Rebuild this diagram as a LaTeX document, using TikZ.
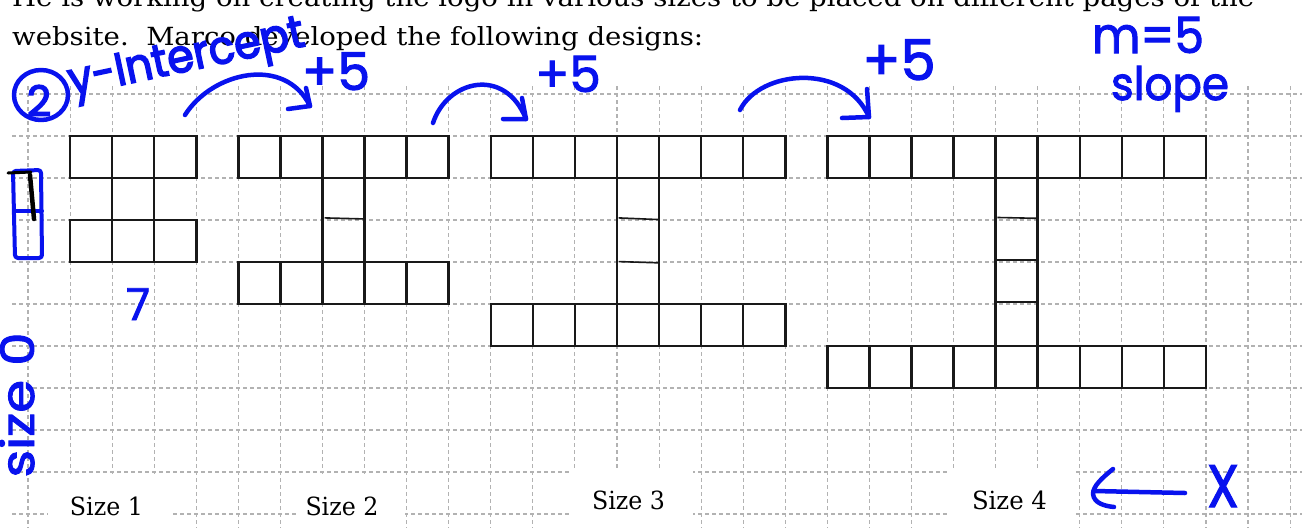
\documentclass[tikz,border=0pt]{standalone}
\usepackage{fontspec}
\usepackage{graphicx}
\setmainfont{DejaVu Serif}
\newfontfamily\handfont{Poppins}[FakeBold=2]
\newfontfamily\handheavy{Poppins}[FakeBold=3.5]
\definecolor{inkc}{RGB}{8,18,238}
\definecolor{gridc}{RGB}{178,178,178}
\definecolor{boxc}{RGB}{25,25,25}
\tikzset{
  gridline/.style={draw=gridc, line width=1.1pt, dash pattern=on 4pt off 3pt},
  sq/.style={draw=boxc, line width=2.5pt},
  divider/.style={draw=boxc, line width=1.6pt},
  ink/.style={draw=inkc, line width=4.5pt, line cap=round, line join=round},
  hw/.style={text=inkc, inner sep=0pt},
  printed/.style={inner sep=0pt, font=\fontsize{25}{28}\selectfont},
  sizelabel/.style={inner sep=0pt, anchor=base, font=\fontsize{25}{28}\selectfont},
}
\begin{document}
\begin{tikzpicture}[x=1pt,y=-1pt]
\useasboundingbox (0,0) rectangle (1302,528);
\fill[white] (0,0) rectangle (1302,528);
\clip (0,0) rectangle (1302,528);
% printed text
\node[printed, anchor=base west] (line0) at (12,6) {\resizebox{1242pt}{\height}{He is working on creating the logo in various sizes to be placed on different pages of the}};
\node[printed, anchor=base west] (line1) at (12,45) {\resizebox{691pt}{\height}{website.\ \ Marco developed the following designs:}};
% grid
\foreach \k in {0,...,30} \draw[gridline] ({28+42.07*\k},86) -- ({28+42.07*\k},528);
\foreach \j in {0,...,10} \draw[gridline] (12,{94+42*\j}) -- (1302,{94+42*\j});
% label gaps
\fill[white] (48,474) rectangle (172,528);
\fill[white] (297,474) rectangle (405,528);
\fill[white] (570,468) rectangle (693,528);
\fill[white] (948,468) rectangle (1073,528);
% labels
\node[sizelabel] (s1) at (106.5,515) {\resizebox{73pt}{\height}{Size 1}};
\node[sizelabel] (s2) at (342,515) {\resizebox{73pt}{\height}{Size 2}};
\node[sizelabel] (s3) at (628.5,509) {\resizebox{73pt}{\height}{Size 3}};
\node[sizelabel] (s4) at (1009.5,509) {\resizebox{75pt}{\height}{Size 4}};
% designs
\begin{scope}[shift={(28,94)}, x=42.07pt, y=-42pt]
  % size 1
  \foreach \k in {1,2,3} {\draw[sq] (\k,1) rectangle ++(1,1); \draw[sq] (\k,3) rectangle ++(1,1);}
  \draw[sq] (2,2) rectangle ++(1,1);
  % size 2
  \foreach \k in {5,...,9} {\draw[sq] (\k,1) rectangle ++(1,1); \draw[sq] (\k,4) rectangle ++(1,1);}
  \draw[sq] (7,2) -- (7,4) (8,2) -- (8,4);
  \draw[divider] (7.05,2.95) -- (8,2.975);
  % size 3
  \foreach \k in {11,...,17} {\draw[sq] (\k,1) rectangle ++(1,1); \draw[sq] (\k,5) rectangle ++(1,1);}
  \draw[sq] (14,2) -- (14,5) (15,2) -- (15,5);
  \draw[divider] (14.04,2.95) -- (15,2.99);
  \draw[divider] (14.04,3.99) -- (15,4.02);
  % size 4
  \foreach \k in {19,...,27} {\draw[sq] (\k,1) rectangle ++(1,1); \draw[sq] (\k,6) rectangle ++(1,1);}
  \draw[sq] (23,2) -- (23,6) (24,2) -- (24,6);
  \draw[divider] (23.04,2.94) -- (24,2.96);
  \draw[divider] (23,3.95) -- (24,3.95);
  \draw[divider] (23,4.95) -- (24,4.95);
\end{scope}
% handwriting
\draw[ink] (41,95) ellipse (27 and 25);
\node[hw, font=\handheavy\fontsize{42}{42}\selectfont, anchor=base] (two) at (39,116) {2};
\node[hw, font=\handheavy\fontsize{46}{46}\selectfont, rotate=12] (yint) at (187,61) {\resizebox{240pt}{\height}{y-Intercept}};
% arcs
\coordinate (a1s) at (185,115); \coordinate (a1e) at (310,106);
\draw[ink] (a1s) .. controls (212,72) and (285,55) .. (a1e);
\draw[ink] (288,109) -- (a1e) -- (306,88);
\node[hw, font=\handfont\fontsize{52}{52}\selectfont, anchor=base] (p1) at (336,90) {+5};
\coordinate (a2s) at (433,123); \coordinate (a2e) at (526,119);
\draw[ink] (a2s) .. controls (447,80) and (505,66) .. (a2e);
\draw[ink] (503,119) -- (a2e) -- (522,98);
\node[hw, font=\handfont\fontsize{50}{50}\selectfont, anchor=base] (p2) at (568,92) {+5};
\coordinate (a3s) at (740,110); \coordinate (a3e) at (869,117);
\draw[ink] (a3s) .. controls (760,70) and (845,62) .. (a3e);
\draw[ink] (842,118) -- (a3e) -- (867,89);
\node[hw, font=\handfont\fontsize{56}{56}\selectfont, anchor=base] (p3) at (899,80) {+5};
\node[hw, font=\handfont\fontsize{50}{50}\selectfont, anchor=base] (m5) at (1148,53) {\resizebox{112pt}{\height}{m=5}};
\node[hw, font=\handfont\fontsize{46}{46}\selectfont, anchor=base] (slope) at (1170,100) {\resizebox{118pt}{\height}{slope}};
% left box
\draw[ink, line width=4pt, rounded corners=3pt] (13,171) -- (41,170) -- (42,258) -- (15,258) -- cycle;
\draw[ink, line width=4pt] (15,211) -- (42,211);
\draw[black, line width=3pt, line cap=round] (8,173) -- (31,172);
\draw[black, line width=4.5pt, line cap=round] (30,175) -- (34,219);
\node[hw, font=\handfont\fontsize{44}{44}\selectfont, anchor=base] (seven) at (138,320) {7};
\node[hw, font=\handfont\fontsize{46}{46}\selectfont, anchor=base, rotate=90] (size0) at (34,405) {\resizebox{145pt}{\height}{size 0}};
% x arrow
\node[hw, font=\handfont\fontsize{60}{60}\selectfont, anchor=base] (xx) at (1223,507) {\resizebox{32pt}{\height}{X}};
\coordinate (xa) at (1185,493); \coordinate (xt) at (1094,491);
\draw[ink] (xa) -- (xt);
\draw[ink] (1113,469) .. controls (1102,478) and (1093,486) .. (1093,494) .. controls (1094,503) and (1104,506) .. (1114,507);
\end{tikzpicture}
\end{document}
